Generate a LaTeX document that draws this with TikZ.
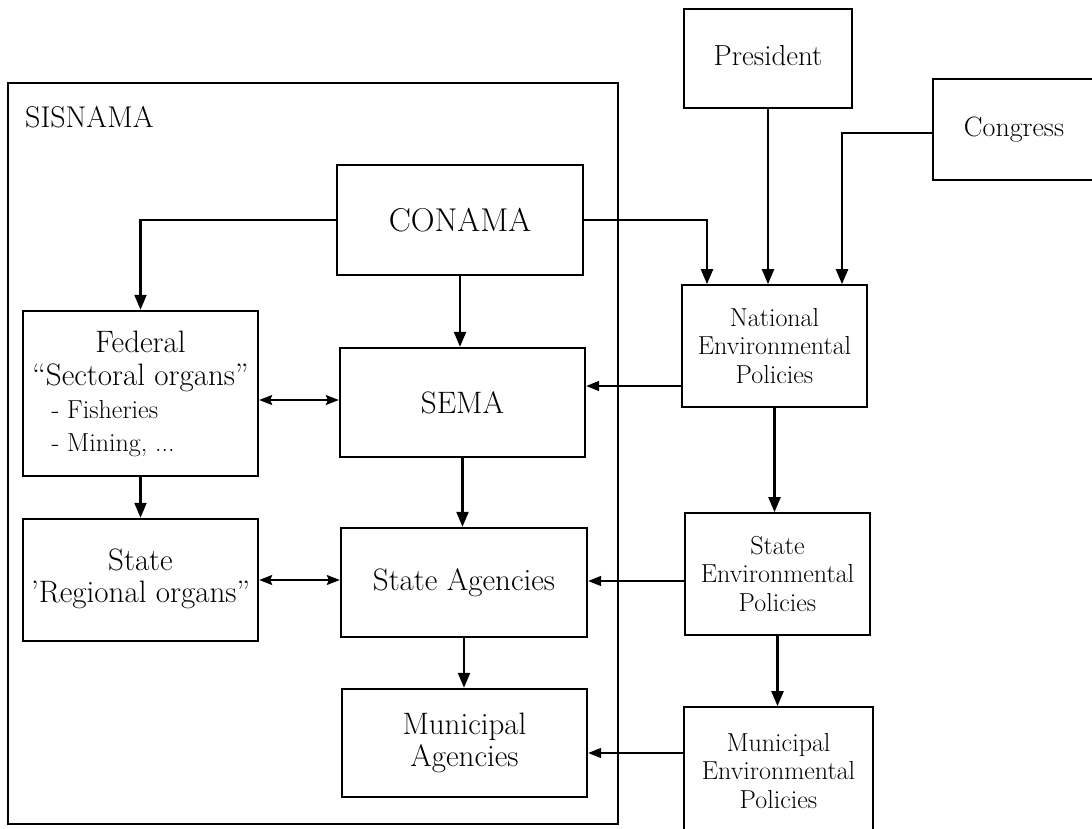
\documentclass[tikz,border=0pt]{standalone}
\usetikzlibrary{arrows.meta,calc}
\begin{document}
\begin{tikzpicture}[x=1pt,y=-1pt,
  mainbox/.style={draw,line width=2.4pt,inner sep=0pt,align=center,font=\fontsize{31}{33}\selectfont},
  polbox/.style={draw,line width=1.7pt,inner sep=0pt,align=center,font=\fontsize{26}{28.5}\selectfont},
  topbox/.style={draw,line width=2pt,inner sep=0pt,align=center},
  frame/.style={draw,line width=1.6pt},
  varr/.style={line width=2.2pt,-{Triangle[length=15pt,width=12pt]}},
  harr/.style={line width=1.6pt,-{Triangle[length=13pt,width=10pt]}},
  darr/.style={line width=1.6pt,{Stealth[length=13pt,width=10pt,inset=2pt]}-{Stealth[length=13pt,width=10pt,inset=2pt]}}
]
\useasboundingbox (0,0) rectangle (1092,829);
\fill[white] (0,0) rectangle (1092,829);

% SISNAMA frame
\node[frame,minimum width=610pt,minimum height=741pt,inner sep=0pt] (sisnama) at (313,453.5) {};
\node[anchor=west,inner sep=0pt,font=\fontsize{30}{32}\selectfont] (sislabel) at (25,117) {SISNAMA};

% left column boxes
\node[mainbox,minimum width=246pt,minimum height=110pt,font=\fontsize{33}{35}\selectfont] (conama) at (460,220) {CONAMA};
\node[mainbox,minimum width=245pt,minimum height=109pt] (sema) at (462.5,402.5) {SEMA};
\node[mainbox,minimum width=246pt,minimum height=109pt] (stateag) at (464,582.5) {State Agencies};
\node[mainbox,minimum width=245pt,minimum height=108pt,font=\fontsize{31}{32}\selectfont] (munag) at (464.5,743) {Municipal\\Agencies};
\node[mainbox,minimum width=235pt,minimum height=165pt] (federal) at (140.5,393.5)
  {Federal\\``Sectoral organs''\\\makebox[218pt][l]{\hspace{20pt}\fontsize{26}{33}\selectfont - Fisheries}\\\makebox[218pt][l]{\hspace{20pt}\fontsize{26}{33}\selectfont - Mining, ...}};
\node[mainbox,minimum width=235pt,minimum height=122pt] (regional) at (140.5,580)
  {\raisebox{8pt}{\begin{tabular}{@{}c@{}}State\\[-1pt]'Regional organs''\end{tabular}}};

% right column boxes
\node[topbox,minimum width=168pt,minimum height=99pt,font=\fontsize{29}{32}\selectfont] (president) at (768,58.5) {\raisebox{6pt}{President}};
\node[topbox,minimum width=162pt,minimum height=101pt,font=\fontsize{28}{32}\selectfont] (congress) at (1014,129.5) {Congress};
\node[polbox,minimum width=185pt,minimum height=122pt] (national) at (774.5,346) {National\\Environmental\\Policies};
\node[polbox,minimum width=185pt,minimum height=122pt] (stateenv) at (777.5,574) {State\\Environmental\\Policies};
\node[polbox,minimum width=189pt,minimum height=128pt] (munenv) at (778.5,771) {Municipal\\Environmental\\Policies};

% connectors
\draw[varr] (conama.west) -| (federal.north);
\draw[varr] (conama.east) -| ([xshift=-67.5pt]national.north);
\draw[varr] (president.south) -- (president.south |- national.north);
\draw[varr] ([yshift=-3.5pt]congress.west) -| ([xshift=67.5pt]national.north);
\draw[varr] (conama.south) -- (conama.south |- sema.north);
\draw[harr] ([yshift=-40pt]national.west) -- ([yshift=-40pt]national.west -| sema.east);
\draw[darr] ([yshift=-6.5pt]federal.east) -- ([yshift=-6.5pt]federal.east -| sema.west);
\draw[varr] (federal.south) -- (federal.south |- regional.north);
\draw[varr] (sema.south) -- (sema.south |- stateag.north);
\draw[darr] (regional.east) -- (regional.east -| stateag.west);
\draw[harr] ([yshift=-7pt]stateenv.west) -- ([yshift=-7pt]stateenv.west -| stateag.east);
\draw[varr] (national.south) -- (national.south |- stateenv.north);
\draw[varr] (stateag.south) -- (stateag.south |- munag.north);
\draw[varr] (stateenv.south) -- (stateenv.south |- munenv.north);
\draw[harr] ([yshift=18pt]munenv.west) -- ([yshift=18pt]munenv.west -| munag.east);
\end{tikzpicture}
\end{document}
